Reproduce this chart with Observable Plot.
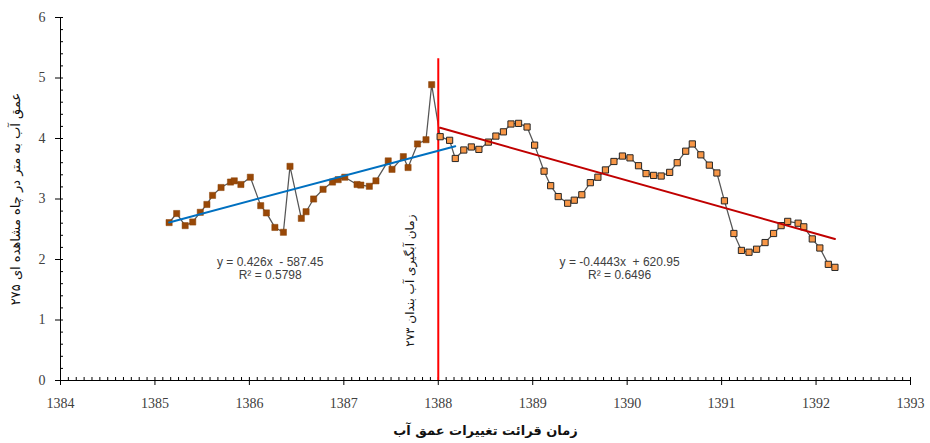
<!DOCTYPE html>
<html><head><meta charset="utf-8">
<script src="https://cdn.jsdelivr.net/npm/d3@7"></script>
<script src="https://cdn.jsdelivr.net/npm/@observablehq/plot@0.6"></script>
<style>body{margin:0;background:#fff}</style>
</head><body><div id="chart"></div>
<script>
// ---- data ----
const leftX = [1385.15,1385.23,1385.32,1385.40,1385.48,1385.55,1385.61,1385.70,1385.80,1385.84,1385.91,1386.01,1386.12,1386.18,1386.27,1386.36,1386.43,1386.55,1386.60,1386.68,1386.78,1386.88,1386.94,1387.01,1387.14,1387.18,1387.27,1387.34,1387.47,1387.51,1387.63,1387.68,1387.78,1387.87,1387.93];
const leftY = [2.61,2.76,2.56,2.62,2.78,2.91,3.06,3.19,3.28,3.30,3.24,3.36,2.89,2.77,2.53,2.45,3.54,2.68,2.79,3.00,3.16,3.28,3.32,3.36,3.24,3.23,3.21,3.30,3.63,3.49,3.70,3.52,3.91,3.98,4.89];
const rightX = [1388.02,1388.12,1388.18,1388.27,1388.35,1388.43,1388.53,1388.61,1388.69,1388.77,1388.85,1388.94,1389.02,1389.12,1389.19,1389.27,1389.37,1389.44,1389.52,1389.61,1389.69,1389.77,1389.86,1389.95,1390.03,1390.12,1390.20,1390.28,1390.36,1390.45,1390.53,1390.62,1390.69,1390.78,1390.87,1390.95,1391.03,1391.13,1391.21,1391.29,1391.37,1391.46,1391.55,1391.63,1391.70,1391.81,1391.87,1391.96,1392.04,1392.13,1392.20];
const rightY = [4.03,3.97,3.67,3.81,3.86,3.82,3.94,4.04,4.11,4.24,4.25,4.19,3.89,3.46,3.22,3.04,2.93,2.98,3.07,3.27,3.36,3.48,3.62,3.71,3.68,3.55,3.42,3.39,3.38,3.44,3.60,3.79,3.91,3.73,3.56,3.43,2.97,2.43,2.15,2.12,2.17,2.28,2.43,2.56,2.63,2.60,2.54,2.34,2.19,1.92,1.87];

const xTicks = [1384,1385,1386,1387,1388,1389,1390,1391,1392,1393];
const yTicks = [0,1,2,3,4,5,6];

const eqLabels = ["y = 0.426x  - 587.45", "y = -0.4443x  + 620.95"];
const r2Labels = ["R² = 0.5798", "R² = 0.6496"];
const eqX = [1386.22, 1389.92];
const eqY = [1.95, 1.95];
const r2Y = [1.74, 1.74];
const trendForward = [0.25, 0];
const trendColors = ["#0070C0", "#C00000"];

const eventX = [1388];
const eventTop = [5.32];
const eventLabel = ["زمان آبگیری آب بندان ۲۷۳"];
const eventLabelX = [1387.70];
const eventLabelY = [1.65];

const xTitle = "زمان قرائت تغییرات عمق آب";
const yTitle = "عمق آب به متر در چاه مشاهده ای ۲۷۵";

// ---- derived ----
const leftPts = leftX.map((x, i) => ({x, y: leftY[i]}));
const rightPts = rightX.map((x, i) => ({x, y: rightY[i]}));
const allPts = leftPts.concat(rightPts);

function fit(xs, ys) {
  const mx = d3.mean(xs), my = d3.mean(ys);
  let sxy = 0, sxx = 0;
  xs.forEach((x, i) => { sxy += (x - mx) * (ys[i] - my); sxx += (x - mx) * (x - mx); });
  const slope = sxy / sxx;
  return {slope, intercept: my - slope * mx};
}
const trends = [[leftX, leftY], [rightX, rightY]].flatMap(([xs, ys], k) => {
  const f = fit(xs, ys);
  const x0 = d3.min(xs), x1 = d3.max(xs) + trendForward[k];
  return [x0, x1].map(x => ({k, x, y: f.slope * x + f.intercept}));
});

const xMinor = d3.range(0, 9 * 12 + 1).map(i => 1384 + i / 12).filter((d, i) => i % 12 !== 0);
const yMinor = d3.range(0, 31).map(i => i / 5).filter((d, i) => i % 5 !== 0);

const eqData = eqLabels.map((t, i) => ({t, x: eqX[i], y: eqY[i]}))
  .concat(r2Labels.map((t, i) => ({t, x: eqX[i], y: r2Y[i]})));

const chart = Plot.plot({
  width: 930, height: 443,
  marginLeft: 60, marginRight: 20, marginTop: 17, marginBottom: 63,
  x: {domain: [1384, 1393]},
  y: {domain: [0, 6]},
  style: {fontFamily: "Liberation Serif", fontSize: "14px", background: "white", overflow: "visible"},
  marks: [
    Plot.axisX({ticks: xTicks, tickSize: 0, tickPadding: 18, tickFormat: d => String(d), color: "#404040", fontSize: 14, label: null}),
    Plot.axisY({ticks: yTicks, tickSize: 0, tickPadding: 15, tickFormat: d => String(d), color: "#404040", fontSize: 14, label: null}),
    // axis lines and ticks
    Plot.ruleY([0], {x1: 1384, x2: 1393, stroke: "#000", strokeWidth: 1}),
    Plot.ruleX([1384], {y1: 0, y2: 6, stroke: "#000", strokeWidth: 1}),
    Plot.ruleX(xTicks, {x: d => d, y1: 0, y2: 0, insetTop: -3, insetBottom: -5, stroke: "#000"}),
    Plot.ruleX(xMinor, {x: d => d, y1: 0, y2: 0, insetTop: -3, insetBottom: 0, stroke: "#000"}),
    Plot.ruleY(yTicks, {y: d => d, x1: 1384, x2: 1384, insetLeft: -5, insetRight: -3, stroke: "#000"}),
    Plot.ruleY(yMinor, {y: d => d, x1: 1384, x2: 1384, insetLeft: 0, insetRight: -3, stroke: "#000"}),
    // connecting line
    Plot.line(allPts, {x: "x", y: "y", stroke: "#555", strokeWidth: 1.25}),
    // event line
    Plot.ruleX(eventX, {x: d => d, y1: 0, y2: (d, i) => eventTop[i], stroke: "#FF0000", strokeWidth: 2}),
    // markers
    Plot.dot(leftPts, {x: "x", y: "y", symbol: "square", r: 3.5, fill: "#984807", stroke: "#8a4206", strokeWidth: 0.5}),
    Plot.dot(rightPts, {x: "x", y: "y", symbol: "square", r: 3.5, fill: "#F79646", stroke: "#262626", strokeWidth: 1}),
    // trend lines
    Plot.line(trends, {x: "x", y: "y", z: "k", stroke: d => trendColors[d.k], strokeWidth: 2}),
    // equation labels
    Plot.text(eqData, {x: "x", y: "y", text: "t", fontFamily: "Liberation Sans", fontSize: 12, fill: "#404040"}),
    // event label
    Plot.text(eventLabel, {x: (d, i) => eventLabelX[i], y: (d, i) => eventLabelY[i], text: d => d, rotate: -90, fontFamily: "DejaVu Sans", fontSize: 12, fill: "#111"}),
    // titles
    Plot.text([xTitle], {frameAnchor: "bottom", dy: 54, text: d => d, textAnchor: "middle", fontFamily: "DejaVu Sans", fontWeight: "bold", fontSize: 13, fill: "#111"}),
    Plot.text([yTitle], {frameAnchor: "left", dx: -45, rotate: -90, textAnchor: "middle", text: d => d, fontFamily: "DejaVu Sans", fontSize: 13, fill: "#111"})
  ]
});
document.getElementById("chart").appendChild(chart);
</script>
</body></html>
